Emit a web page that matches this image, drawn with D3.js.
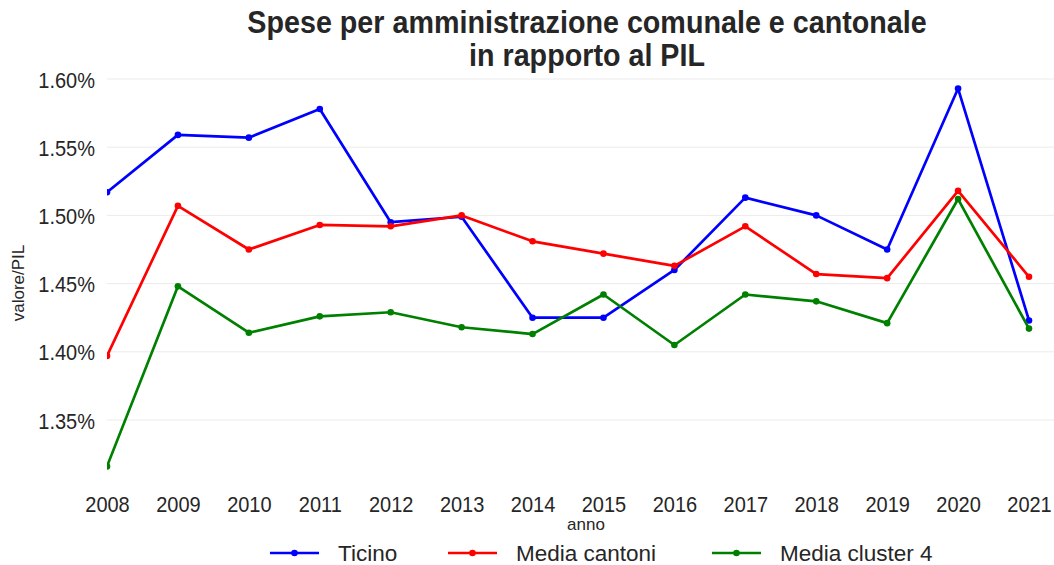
<!DOCTYPE html>
<html><head><meta charset="utf-8">
<script src="https://cdn.jsdelivr.net/npm/d3@7"></script>
<style>body{margin:0;background:#fff}svg{display:block}text{font-family:"Liberation Sans",Arial,sans-serif;fill:#262626}</style>
</head><body><svg id="c" width="1054" height="565"></svg>
<script>
const years = [2008,2009,2010,2011,2012,2013,2014,2015,2016,2017,2018,2019,2020,2021];
const ticino = [1.517,1.559,1.557,1.578,1.495,1.499,1.425,1.425,1.460,1.513,1.500,1.475,1.593,1.423];
const mediaCantoni = [1.397,1.507,1.475,1.493,1.492,1.500,1.481,1.472,1.463,1.492,1.457,1.454,1.518,1.455];
const mediaCluster4 = [1.316,1.448,1.414,1.426,1.429,1.418,1.413,1.442,1.405,1.442,1.437,1.421,1.512,1.417];
const seriesNames = ["Ticino","Media cantoni","Media cluster 4"];
const colors = ["#0000ff","#ff0000","#008000"];
const yTicks = [1.35,1.40,1.45,1.50,1.55,1.60];

const svg = d3.select("#c");
const L=107, R=1054, T=55, B=470;
const x = d3.scaleLinear().domain([2008,2021]).range([L,1029]);
const y = d3.scaleLinear().domain([1.35,1.60]).range([420,79]);

svg.append("defs").append("clipPath").attr("id","clip").append("rect")
  .attr("x",L).attr("y",T).attr("width",R-L).attr("height",B-T);

// grid
svg.append("g").selectAll("line").data(yTicks).join("line")
  .attr("x1",L).attr("x2",R).attr("y1",d=>y(d)).attr("y2",d=>y(d))
  .attr("stroke","#ebebeb").attr("stroke-width",1);

// y axis labels
const yAx = svg.append("g").attr("transform",`translate(${L},0)`)
  .call(d3.axisLeft(y).tickValues(yTicks).tickSize(0).tickPadding(12).tickFormat(d=>d.toFixed(2)+"%"));
yAx.select(".domain").remove();
yAx.selectAll("text").style("font-size","20px").attr("fill","#262626")
  .attr("dy",null).attr("y",7.5).attr("transform","scale(1,1.08)");

// x axis labels
const xAx = svg.append("g").attr("transform",`translate(0,${B})`)
  .call(d3.axisBottom(x).tickValues(years).tickSize(0).tickFormat(d3.format("d")));
xAx.select(".domain").remove();
xAx.selectAll("text").style("font-size","20px").attr("fill","#262626")
  .attr("dy",null).attr("y",0).attr("transform","translate(0,42) scale(1,1.08)");

const data = [ticino, mediaCantoni, mediaCluster4];
const line = d3.line().x((d,i)=>x(years[i])).y(d=>y(d));
const g = svg.append("g").attr("clip-path","url(#clip)");
data.forEach((s,k)=>{
  g.append("path").datum(s).attr("d",line).attr("fill","none")
    .attr("stroke",colors[k]).attr("stroke-width",2.7).attr("stroke-linejoin","round");
  g.selectAll(null).data(s).join("circle")
    .attr("cx",(d,i)=>x(years[i])).attr("cy",d=>y(d)).attr("r",3.3).attr("fill",colors[k]);
});

// title
svg.append("text").attr("transform","translate(587,33) scale(1,1.12)").attr("text-anchor","middle")
  .style("font-size","28.7px").style("font-weight","bold").text("Spese per amministrazione comunale e cantonale");
svg.append("text").attr("transform","translate(587,66) scale(1,1.12)").attr("text-anchor","middle")
  .style("font-size","28.7px").style("font-weight","bold").text("in rapporto al PIL");

// axis titles
svg.append("text").attr("x",586).attr("y",530).attr("text-anchor","middle").style("font-size","17px").text("anno");
svg.append("text").attr("transform","translate(24,283) rotate(-90)").attr("text-anchor","middle").style("font-size","17px").text("valore/PIL");

// legend
const legX = [270,448,712];
const leg = svg.append("g");
seriesNames.forEach((n,k)=>{
  const gg = leg.append("g").attr("transform",`translate(${legX[k]},553)`);
  gg.append("line").attr("x1",0).attr("x2",49).attr("y1",0).attr("y2",0).attr("stroke",colors[k]).attr("stroke-width",2.7);
  gg.append("circle").attr("cx",24.5).attr("cy",0).attr("r",3.3).attr("fill",colors[k]);
  gg.append("text").attr("x",68).attr("y",7.5).style("font-size","22.5px").text(n);
});
</script></body></html>
